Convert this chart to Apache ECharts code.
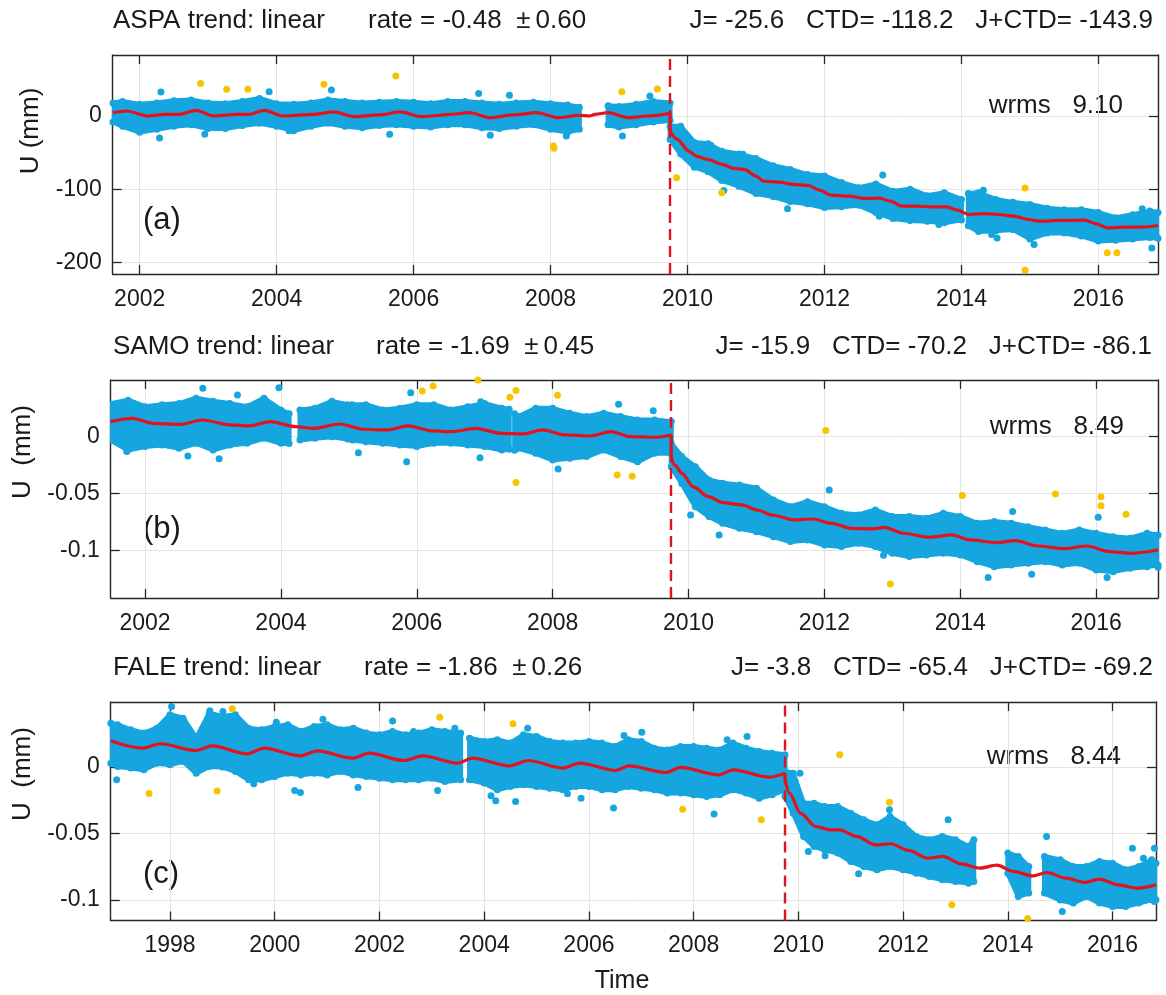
<!DOCTYPE html>
<html>
<head>
<meta charset="utf-8">
<title>U time series</title>
<script src="https://cdn.jsdelivr.net/npm/echarts@6.0.0/dist/echarts.min.js"></script>
<style>
  html, body { margin: 0; padding: 0; background: #fff; }
  #chart { width: 1166px; height: 995px; }
</style>
</head>
<body>
<div id="chart"></div>
<script>
var quakeT = 2009.745;

// ASPA (a)
var aTicksX = [2002, 2004, 2006, 2008, 2010, 2012, 2014, 2016];
var aTicksY = [-200, -100, 0];
var aTrend = [[2001.61,4.6],[2001.81,6.9],[2002.12,0.1],[2002.37,2.4],[2002.59,2.4],[2002.82,7.8],[2003.09,0.1],[2003.43,2.4],[2003.6,2.4],[2003.82,7.8],[2004.1,0.1],[2004.55,2.4],[2004.83,5.6],[2005.13,-0.8],[2005.5,1.5],[2005.8,5.6],[2006.11,-0.8],[2006.56,2.4],[2006.81,4.6],[2007.12,-2.2],[2007.45,1.5],[2007.79,4.6],[2008.12,-2.2],[2008.4,1.0],[2008.57,0.1],[2008.65,2.4],[2008.84,4.6],[2009.14,-2.2],[2009.42,0.1],[2009.745,3.7],[2009.745,-20.5],[2009.85,-31.9],[2010.02,-47.9],[2010.13,-54.7],[2010.29,-59.3],[2010.51,-66.1],[2010.67,-71.6],[2010.83,-73],[2011.0,-82.1],[2011.11,-89],[2011.33,-90.3],[2011.54,-93.5],[2011.76,-94.9],[2011.93,-101.3],[2012.09,-108.1],[2012.36,-109.5],[2012.58,-112.7],[2012.8,-112.2],[2012.96,-116.4],[2013.13,-123.2],[2013.34,-123.2],[2013.56,-124.1],[2013.78,-124.1],[2013.94,-128.7],[2014.11,-134.6],[2014.33,-133.3],[2014.54,-134.6],[2014.76,-136.9],[2014.98,-141.5],[2015.14,-143.8],[2015.47,-142.8],[2015.8,-142.4],[2015.96,-147],[2016.13,-152.9],[2016.34,-152],[2016.62,-152],[2016.87,-149.7]];
// [time, low, high] of the daily cloud, null = no data
var aBand = [[2001.61,-8,18],[2001.75,-14,20],[2002.0,-22,16],[2002.25,-18,18],[2002.5,-14,21],[2002.75,-12,22],[2003.0,-17,18],[2003.25,-17,17],[2003.5,-13,20],[2003.75,-10,24],[2004.0,-14,17],[2004.25,-20,16],[2004.5,-14,18],[2004.75,-10,22],[2005.0,-14,20],[2005.25,-16,18],[2005.5,-13,19],[2005.75,-12,20],[2006.0,-14,19],[2006.25,-15,17],[2006.5,-12,20],[2006.75,-12,20],[2007.0,-16,18],[2007.25,-17,16],[2007.5,-14,18],[2007.75,-12,19],[2008.0,-18,17],[2008.25,-22,15],[2008.42,-18,12],
  null,
  [2008.84,-12,14],[2009.0,-15,13],[2009.25,-12,16],[2009.5,-8,20],[2009.745,-6,18],
  null,
  [2009.745,-32,-14],[2009.9,-52,-14],[2010.1,-70,-36],[2010.3,-76,-38],[2010.5,-88,-48],[2010.75,-96,-52],[2011.0,-106,-58],[2011.25,-110,-68],[2011.5,-117,-73],[2011.75,-120,-80],[2012.0,-125,-82],[2012.25,-124,-91],[2012.5,-122,-98],[2012.75,-132,-93],[2013.0,-140,-103],[2013.25,-143,-100],[2013.5,-144,-109],[2013.75,-146,-105],[2014.0,-142,-114],
  null,
  [2014.1,-150,-106],[2014.25,-158,-105],[2014.5,-157,-114],[2014.75,-155,-118],[2015.0,-168,-121],[2015.25,-160,-126],[2015.5,-160,-128],[2015.75,-164,-128],[2016.0,-171,-132],[2016.25,-170,-139],[2016.5,-168,-135],[2016.75,-166,-130],[2016.87,-167,-132]];
var aBlue = [[2002.31,33],[2002.29,-30],[2002.95,-25],[2004.18,-20],[2004.8,35.7],[2006.95,31],[2007.4,28.4],[2005.65,-25],[2007.12,-26.4],[2008.23,-27.3],[2003.89,33.4],[2009.05,-27.3],[2009.45,27.5],[2010.53,-101.8],[2010.34,-40],[2010.81,-52.4],[2011.46,-126.9],[2012.85,-80.7],[2012.8,-136.9],[2013.67,-148.3],[2014.32,-101.3],[2014.52,-166.6],[2015.06,-175.7],[2016.78,-180.3],[2016.64,-126.9],[2014.3,-155.2],[2014.44,-162]];
var aYellow = [[2002.89,44.4],[2003.27,36.6],[2003.58,36.6],[2004.69,43.5],[2005.74,54.9],[2008.04,-41],[2008.05,-44],[2009.04,33.4],[2009.56,37.1],[2009.84,-84.4],[2010.5,-105],[2014.93,-98.5],[2014.93,-210.9],[2016.13,-187],[2016.27,-187]];

// SAMO (b)
var bTicksX = [2002, 2004, 2006, 2008, 2010, 2012, 2014, 2016];
var bTicksY = [-0.1, -0.05, 0];
var bTrend = [[2001.49,0.0132],[2001.81,0.0161],[2002.12,0.0117],[2002.51,0.0108],[2002.85,0.0146],[2003.25,0.0103],[2003.53,0.0094],[2003.84,0.0132],[2004.21,0.0088],[2004.49,0.0073],[2004.86,0.0111],[2005.22,0.0065],[2005.56,0.0059],[2005.87,0.0094],[2006.24,0.005],[2006.52,0.0044],[2006.86,0.0073],[2007.25,0.0029],[2007.56,0.0024],[2007.85,0.0059],[2008.19,0.0015],[2008.55,0.0006],[2008.86,0.0044],[2009.13,0.0001],[2009.52,-0.0005],[2009.745,0.0015],[2009.745,-0.019],[2009.8,-0.025],[2009.9,-0.032],[2010.07,-0.044],[2010.29,-0.0526],[2010.51,-0.0579],[2010.79,-0.0599],[2011.01,-0.0643],[2011.23,-0.0687],[2011.56,-0.073],[2011.83,-0.0722],[2012.11,-0.076],[2012.39,-0.0804],[2012.72,-0.0809],[2012.88,-0.0795],[2013.16,-0.0847],[2013.54,-0.0882],[2013.87,-0.0862],[2014.15,-0.0906],[2014.53,-0.0929],[2014.81,-0.0912],[2015.14,-0.0959],[2015.53,-0.0982],[2015.86,-0.0959],[2016.19,-0.1008],[2016.52,-0.1023],[2016.91,-0.0994]];
var bBand = [[2001.49,-0.003,0.029],[2001.75,-0.0117,0.032],[2002.0,-0.0087,0.0263],[2002.25,-0.0073,0.028],[2002.5,-0.0102,0.029],[2002.75,-0.0058,0.0337],[2003.0,-0.0117,0.031],[2003.25,-0.0073,0.029],[2003.5,-0.0058,0.0263],[2003.75,-0.0014,0.0337],[2004.0,-0.0058,0.0234],[2004.12,-0.006,0.02],
  null,
  [2004.28,-0.003,0.0234],[2004.5,-0.0014,0.0249],[2004.75,0.0,0.031],[2004.98,-0.002,0.028],
  null,
  [2005.05,-0.003,0.028],[2005.25,-0.0044,0.028],[2005.5,-0.0058,0.0234],[2005.75,-0.0073,0.0249],[2006.0,-0.0087,0.028],[2006.25,-0.0058,0.028],[2006.5,-0.0058,0.0234],[2006.75,-0.0073,0.0263],[2007.0,-0.0087,0.029],[2007.25,-0.0117,0.0249],[2007.36,-0.011,0.024],
  null,
  [2007.44,-0.012,0.02],[2007.5,-0.0102,0.0176],[2007.75,-0.0146,0.0249],[2008.0,-0.0205,0.0249],[2008.25,-0.019,0.0205],[2008.5,-0.0175,0.0176],[2008.75,-0.0117,0.0205],[2009.0,-0.0175,0.0176],[2009.25,-0.022,0.0146],[2009.5,-0.0146,0.0146],[2009.745,-0.0146,0.0132],
  null,
  [2009.745,-0.0263,-0.0058],[2009.9,-0.041,-0.0175],[2010.1,-0.0614,-0.0263],[2010.3,-0.0701,-0.038],[2010.5,-0.076,-0.0409],[2010.75,-0.0804,-0.0423],[2011.0,-0.0833,-0.0453],[2011.25,-0.0877,-0.0555],[2011.5,-0.092,-0.0614],[2011.75,-0.0906,-0.057],[2012.0,-0.095,-0.0614],[2012.25,-0.0964,-0.0672],[2012.5,-0.0935,-0.0687],[2012.75,-0.0964,-0.0643],[2013.0,-0.1023,-0.0701],[2013.25,-0.1052,-0.0701],[2013.5,-0.1037,-0.0716],[2013.75,-0.1023,-0.0672],[2014.0,-0.1037,-0.0701],[2014.25,-0.1096,-0.076],[2014.5,-0.114,-0.0745],[2014.75,-0.1125,-0.076],[2015.0,-0.111,-0.079],[2015.25,-0.1096,-0.0818],[2015.5,-0.1125,-0.0848],[2015.75,-0.111,-0.0818],[2016.0,-0.1169,-0.0848],[2016.25,-0.1184,-0.0877],[2016.5,-0.1155,-0.0891],[2016.75,-0.114,-0.0848],[2016.91,-0.1125,-0.0862]];
var bBlue = [[2002.85,0.0424],[2003.97,0.043],[2003.09,-0.0193],[2002.63,-0.0169],[2005.85,-0.0219],[2005.14,-0.014],[2006.93,-0.0184],[2008.08,-0.0283],[2003.36,0.0366],[2005.91,0.0386],[2001.73,-0.0131],[2006.94,0.0307],[2008.97,0.0284],[2009.48,0.0228],[2010.03,-0.0687],[2010.45,-0.0862],[2012.07,-0.0467],[2012.87,-0.104],[2014.77,-0.0657],[2014.41,-0.1236],[2015.05,-0.1207],[2016.16,-0.1236],[2016.91,-0.1146],[2016.03,-0.0707]];
var bYellow = [[2006.08,0.0401],[2006.24,0.0445],[2006.9,0.0497],[2007.37,0.0345],[2007.46,0.0404],[2007.46,-0.0403],[2008.07,0.0363],[2008.95,-0.0336],[2009.17,-0.0347],[2012.02,0.0053],[2012.97,-0.1292],[2014.03,-0.0517],[2015.4,-0.0503],[2016.07,-0.0526],[2016.07,-0.0605],[2016.44,-0.0681],[2016.39,-0.1432]];

// FALE (c)
var cTicksX = [1998, 2000, 2002, 2004, 2006, 2008, 2010, 2012, 2014, 2016];
var cTicksY = [-0.1, -0.05, 0];
var cTrend = [[1996.87,0.0197],[1997.46,0.0142],[1997.82,0.0175],[1998.48,0.0124],[1998.81,0.0159],[1999.47,0.0099],[1999.8,0.0142],[2000.49,0.0084],[2000.82,0.0122],[2001.48,0.0067],[2001.81,0.0104],[2002.46,0.0049],[2002.83,0.0084],[2003.49,0.0029],[2003.78,0.0067],[2004.48,0.0009],[2004.84,0.0049],[2005.5,-0.0008],[2005.83,0.003],[2006.51,-0.0026],[2006.76,0.0009],[2007.47,-0.0041],[2007.76,-0.0003],[2008.47,-0.0059],[2008.76,-0.0021],[2009.44,-0.0076],[2009.745,-0.0046],[2009.745,-0.0096],[2009.83,-0.0196],[2010.04,-0.0347],[2010.33,-0.0447],[2010.61,-0.0472],[2010.79,-0.0472],[2011.11,-0.0522],[2011.47,-0.0585],[2011.76,-0.0577],[2012.11,-0.0627],[2012.47,-0.0685],[2012.76,-0.0672],[2013.11,-0.0728],[2013.47,-0.076],[2013.79,-0.0738],[2014.11,-0.0785],[2014.47,-0.0818],[2014.75,-0.0793],[2015.11,-0.0836],[2015.47,-0.0868],[2015.75,-0.0843],[2016.11,-0.0886],[2016.47,-0.0911],[2016.83,-0.0886]];
var cBand = [[1996.87,0.0029,0.033],[1997.0,0.0004,0.0317],[1997.25,-0.0008,0.028],[1997.5,-0.0021,0.0255],[1997.75,0.0029,0.0292],[1998.0,0.0017,0.0393],[1998.25,0.0042,0.0367],[1998.5,-0.0046,0.0217],[1998.75,0.0004,0.0405],[1999.0,0.0,0.038],[1999.25,-0.0033,0.0393],[1999.5,-0.0096,0.0292],[1999.75,-0.0096,0.028],[2000.0,-0.0071,0.0305],[2000.25,-0.0046,0.0317],[2000.5,-0.0059,0.0267],[2000.75,-0.0046,0.0305],[2001.0,-0.0059,0.0317],[2001.25,-0.0033,0.028],[2001.5,-0.0059,0.0292],[2001.75,-0.0071,0.0255],[2002.0,-0.0084,0.0242],[2002.25,-0.0096,0.0267],[2002.5,-0.0096,0.0242],[2002.75,-0.0096,0.0255],[2003.0,-0.0084,0.028],[2003.25,-0.0109,0.0267],[2003.55,-0.0096,0.0255],
  null,
  [2003.72,-0.0096,0.0217],[2004.0,-0.0121,0.0192],[2004.25,-0.0171,0.0205],[2004.5,-0.0146,0.018],[2004.75,-0.0134,0.0242],[2005.0,-0.0146,0.023],[2005.25,-0.0159,0.0192],[2005.5,-0.0171,0.018],[2005.75,-0.0146,0.018],[2006.0,-0.0146,0.0192],[2006.25,-0.0171,0.018],[2006.5,-0.0171,0.0155],[2006.75,-0.0146,0.0205],[2007.0,-0.0159,0.0192],[2007.25,-0.0171,0.0142],[2007.5,-0.0196,0.0129],[2007.75,-0.0196,0.0155],[2008.0,-0.0209,0.0155],[2008.25,-0.0221,0.0142],[2008.5,-0.0209,0.0129],[2008.75,-0.0171,0.018],[2009.0,-0.0196,0.0142],[2009.25,-0.0234,0.0117],[2009.5,-0.0209,0.0104],[2009.745,-0.0171,0.0092],
  null,
  [2009.745,-0.0221,-0.0033],[2009.9,-0.0347,-0.0046],[2010.1,-0.0522,-0.0272],[2010.3,-0.0597,-0.0272],[2010.5,-0.0622,-0.0297],[2010.75,-0.0647,-0.0297],[2011.0,-0.071,-0.0347],[2011.25,-0.0748,-0.0397],[2011.5,-0.0773,-0.0434],[2011.75,-0.0748,-0.0372],[2012.0,-0.0773,-0.0434],[2012.25,-0.0798,-0.0522],[2012.5,-0.0823,-0.0547],[2012.75,-0.0848,-0.0522],[2013.0,-0.0861,-0.0547],[2013.25,-0.0873,-0.0597],[2013.35,-0.0861,-0.0547],
  null,
  [2014.0,-0.0798,-0.0647],[2014.2,-0.0973,-0.0673],[2014.4,-0.0948,-0.0748],
  null,
  [2014.7,-0.0948,-0.0673],[2015.0,-0.1,-0.0698],[2015.25,-0.1023,-0.0748],[2015.5,-0.0973,-0.0748],[2015.75,-0.1023,-0.071],[2016.0,-0.1048,-0.0723],[2016.25,-0.1048,-0.0773],[2016.5,-0.1023,-0.0748],[2016.75,-0.0998,-0.0698],[2016.83,-0.0998,-0.0723]];
var cBlue = [[1996.98,-0.0096],[1998.03,0.0455],[1998.76,0.0423],[1999.01,0.0418],[1999.6,-0.0126],[2000.03,0.0337],[2000.92,0.036],[2000.38,-0.0176],[2000.49,-0.0191],[2001.59,-0.0154],[2002.25,0.0347],[2002.65,0.0267],[2003.11,-0.0176],[2003.44,0.0292],[2004.13,-0.0216],[2004.22,-0.0254],[2004.6,-0.0259],[2004.83,0.0292],[2005.59,-0.0201],[2005.85,-0.0234],[2007.01,0.0262],[2006.67,0.0237],[2006.47,-0.0309],[2008.39,-0.0354],[2008.64,0.0205],[2009.02,0.023],[2010.03,-0.0046],[2010.19,-0.0635],[2010.51,-0.0668],[2011.15,-0.0803],[2011.74,-0.0322],[2012.86,-0.0397],[2013.26,-0.0823],[2014.74,-0.0522],[2015.04,-0.1086],[2016.0,-0.1156],[2016.38,-0.061],[2016.8,-0.061],[2016.8,-0.1011],[2016.59,-0.0685]];
var cYellow = [[1998.23,0.049],[1997.6,-0.0199],[1999.19,0.0438],[1998.9,-0.0181],[2003.15,0.0375],[2004.55,0.0325],[2007.79,-0.0317],[2009.29,-0.0397],[2010.79,0.0092],[2011.74,-0.0264],[2012.93,-0.1036],[2014.38,-0.1139]];

var BLUE = '#16a6df';
var RED = '#e2131d';
var YEL = '#f7c400';
var AXC = '#262626';
var GRIDC = '#e4e4e4';
var FONT = '"Liberation Sans", Arial, Helvetica, sans-serif';

var panels = [
  { box: { left: 112.7, top: 55, width: 1045.3, height: 219 }, x: [2001.606, 2016.87], y: [-216, 83.5],
    ticksX: aTicksX, ticksY: aTicksY, trend: aTrend, band: aBand, blue: aBlue, yellow: aYellow },
  { box: { left: 110.7, top: 380, width: 1047.3, height: 218 }, x: [2001.494, 2016.91], y: [-0.1415, 0.0497],
    ticksX: bTicksX, ticksY: bTicksY, trend: bTrend, band: bBand, blue: bBlue, yellow: bYellow },
  { box: { left: 110.7, top: 702, width: 1045.3, height: 218.5 }, x: [1996.867, 2016.83], y: [-0.1154, 0.0489],
    ticksX: cTicksX, ticksY: cTicksY, trend: cTrend, band: cBand, blue: cBlue, yellow: cYellow }
];

function splitBand(rows) {
  var segs = [], cur = [];
  rows.forEach(function (r) {
    if (r === null) { if (cur.length) segs.push(cur); cur = []; }
    else cur.push(r);
  });
  if (cur.length) segs.push(cur);
  return segs;
}

// pre / post quake parts of the trend (the step has two points at the same time)
function splitTrend(pts) {
  for (var k = 1; k < pts.length; k++) {
    if (pts[k][0] === pts[k - 1][0]) return [pts.slice(0, k), pts.slice(k)];
  }
  return [pts];
}

function bandRenderer(segs) {
  return function (params, api) {
    var seg = segs[params.dataIndex];
    var top = seg.map(function (r) { return api.coord([r[0], r[2]]); });
    var bot = seg.map(function (r) { return api.coord([r[0], r[1]]); }).reverse();
    return {
      type: 'polygon',
      shape: { points: top.concat(bot) },
      style: { fill: BLUE, stroke: BLUE, lineWidth: 5, lineJoin: 'round' }
    };
  };
}

var grids = [], xAxes = [], yAxes = [], series = [];

panels.forEach(function (p, i) {
  grids.push(p.box);
  var tickStyle = { inside: true, length: 9, lineStyle: { color: AXC, width: 1.3 } };
  var lineStyle = { onZero: false, lineStyle: { color: AXC, width: 1.4 } };
  xAxes.push({
    gridIndex: i, type: 'value', min: p.x[0], max: p.x[1], position: 'bottom',
    axisLine: lineStyle,
    axisTick: Object.assign({ customValues: p.ticksX }, tickStyle),
    axisLabel: { customValues: p.ticksX, fontSize: 23, color: '#1a1a1a', fontFamily: FONT, margin: 14,
      formatter: function (v) { return String(Math.round(v)); } },
    splitLine: { show: true, lineStyle: { color: GRIDC, width: 1 } }
  });
  xAxes.push({
    gridIndex: i, type: 'value', min: p.x[0], max: p.x[1], position: 'top',
    axisLine: lineStyle,
    axisTick: Object.assign({ customValues: p.ticksX }, tickStyle),
    axisLabel: { show: false }, splitLine: { show: false }
  });
  yAxes.push({
    gridIndex: i, type: 'value', min: p.y[0], max: p.y[1], position: 'left',
    axisLine: lineStyle,
    axisTick: Object.assign({ customValues: p.ticksY }, tickStyle),
    axisLabel: { customValues: p.ticksY, fontSize: 23, color: '#1a1a1a', fontFamily: FONT, margin: 11,
      formatter: function (v) { return String(v); } },
    splitLine: { show: true, lineStyle: { color: GRIDC, width: 1 } }
  });
  yAxes.push({
    gridIndex: i, type: 'value', min: p.y[0], max: p.y[1], position: 'right',
    axisLine: lineStyle,
    axisTick: Object.assign({ customValues: p.ticksY }, tickStyle),
    axisLabel: { show: false }, splitLine: { show: false }
  });

  var segs = splitBand(p.band);
  var edges = [];
  p.band.forEach(function (r) {
    if (r) { edges.push([r[0], r[1]]); edges.push([r[0], r[2]]); }
  });

  series.push({
    type: 'custom', xAxisIndex: 2 * i, yAxisIndex: 2 * i, z: 1, silent: true, clip: true,
    data: segs.map(function (s) { return [s[0][0], s[0][1]]; }),
    renderItem: bandRenderer(segs)
  });
  series.push({
    type: 'scatter', xAxisIndex: 2 * i, yAxisIndex: 2 * i, z: 2, silent: true,
    symbolSize: 7, itemStyle: { color: BLUE, opacity: 1 },
    data: edges.concat(p.blue)
  });
  series.push({
    type: 'scatter', xAxisIndex: 2 * i, yAxisIndex: 2 * i, z: 3, silent: true,
    symbolSize: 7, itemStyle: { color: YEL, opacity: 1 },
    data: p.yellow
  });

  var parts = splitTrend(p.trend);
  // vertical step at the quake
  var k = parts[0].length;
  series.push({
    type: 'line', xAxisIndex: 2 * i, yAxisIndex: 2 * i, z: 4, silent: true,
    showSymbol: false, lineStyle: { color: RED, width: 3.2 },
    data: [parts[0][k - 1], parts[1][0]],
    markLine: {
      silent: true, symbol: ['none', 'none'], label: { show: false },
      lineStyle: { color: RED, width: 2.4, type: [11, 6] },
      data: [{ xAxis: quakeT }]
    }
  });
  parts.forEach(function (part) {
    series.push({
      type: 'line', xAxisIndex: 2 * i, yAxisIndex: 2 * i, z: 4, silent: true,
      showSymbol: false, smooth: 0.3, smoothMonotone: 'x',
      lineStyle: { color: RED, width: 3.2 },
      data: part
    });
  });
});

function txt(x, y, s, size, align, extra) {
  var el = {
    type: 'text', x: x, y: y, silent: true,
    style: { text: s, fontSize: size, fontFamily: FONT, fill: '#1a1a1a', align: align, verticalAlign: 'middle' }
  };
  if (extra) Object.assign(el, extra);
  return el;
}

var texts = [
  txt(113, 21, 'ASPA trend: linear', 26, 'left'),
  txt(368, 21, 'rate = -0.48  \u00b1\u20090.60', 26, 'left'),
  txt(1153, 21, 'J= -25.6   CTD= -118.2   J+CTD= -143.9', 26, 'right'),
  txt(1123, 106, 'wrms   9.10', 26, 'right'),
  txt(143, 220, '(a)', 31, 'left'),
  txt(31, 131, 'U (mm)', 26, 'center', { rotation: Math.PI / 2 }),

  txt(113, 347, 'SAMO trend: linear', 26, 'left'),
  txt(376, 347, 'rate = -1.69  \u00b1\u20090.45', 26, 'left'),
  txt(1152, 347, 'J= -15.9   CTD= -70.2   J+CTD= -86.1', 26, 'right'),
  txt(1124, 427, 'wrms   8.49', 26, 'right'),
  txt(143, 529, '(b)', 31, 'left'),
  txt(23, 452, 'U  (mm)', 26, 'center', { rotation: Math.PI / 2 }),

  txt(113, 668, 'FALE trend: linear', 26, 'left'),
  txt(364, 668, 'rate = -1.86  \u00b1\u20090.26', 26, 'left'),
  txt(1153, 668, 'J= -3.8   CTD= -65.4   J+CTD= -69.2', 26, 'right'),
  txt(1121, 757, 'wrms   8.44', 26, 'right'),
  txt(143, 874, '(c)', 31, 'left'),
  txt(23, 774, 'U  (mm)', 26, 'center', { rotation: Math.PI / 2 }),

  txt(622, 981, 'Time', 25, 'center')
];

var chart = echarts.init(document.getElementById('chart'), null, { renderer: 'canvas' });
chart.setOption({
  animation: false,
  backgroundColor: '#ffffff',
  textStyle: { fontFamily: FONT },
  grid: grids,
  xAxis: xAxes,
  yAxis: yAxes,
  series: series,
  graphic: { elements: texts }
});
</script>
</body>
</html>
